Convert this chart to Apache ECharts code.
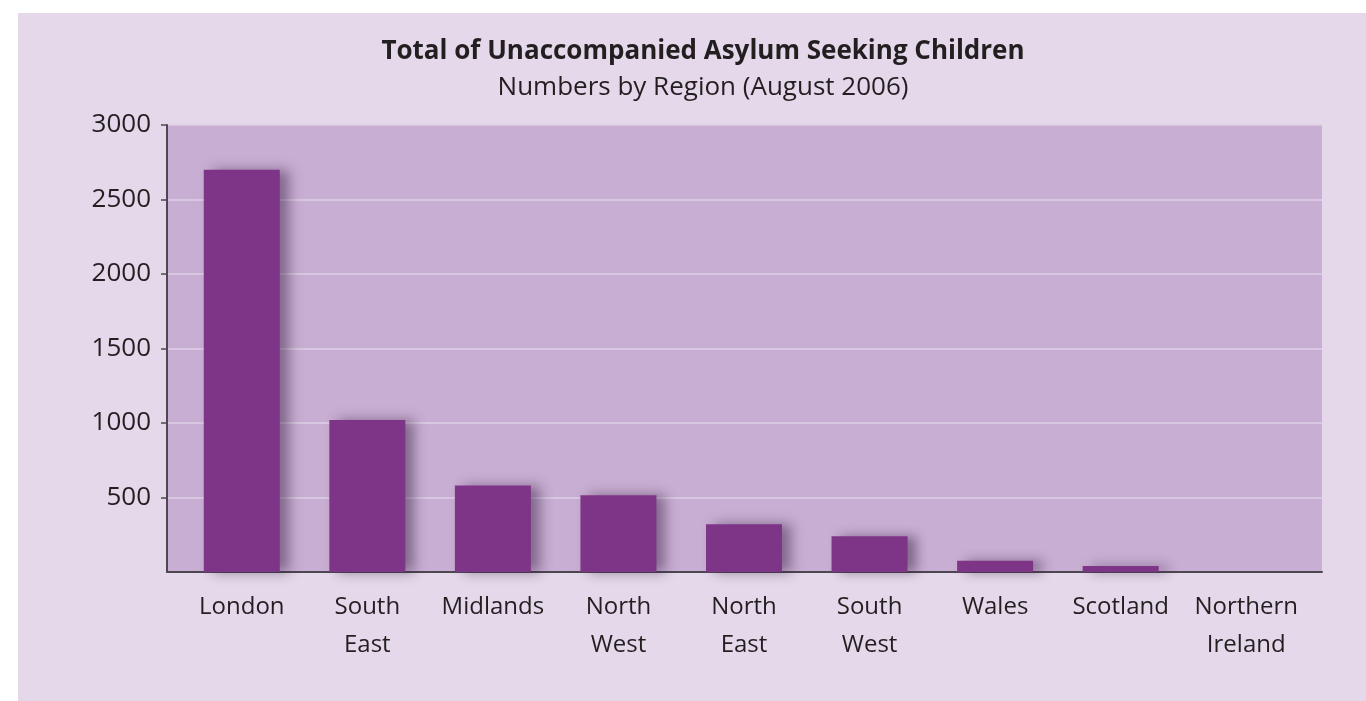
<!DOCTYPE html>
<html>
<head>
<meta charset="utf-8">
<script src="https://cdn.jsdelivr.net/npm/echarts@6/dist/echarts.min.js"></script>
<style>
html,body{margin:0;padding:0;background:#ffffff;}
#chart{width:1366px;height:701px;}
</style>
</head>
<body>
<div id="chart"></div>
<script>
const titleText = 'Total of Unaccompanied Asylum Seeking Children';
const subtitleText = 'Numbers by Region (August 2006)';
const categories = ['London', 'South\nEast', 'Midlands', 'North\nWest', 'North\nEast', 'South\nWest', 'Wales', 'Scotland', 'Northern\nIreland'];
const values = [2700, 1020, 580, 515, 320, 240, 75, 40, 0];
const yTicks = { min: 0, max: 3000, interval: 500 };

const FONT = '"Open Sans", sans-serif';
const chart = echarts.init(document.getElementById('chart'), null, { renderer: 'canvas' });

chart.setOption({
  animation: false,
  backgroundColor: '#ffffff',
  graphic: [{
    type: 'rect', z: -10, silent: true,
    shape: { x: 18, y: 13, width: 1348, height: 688 },
    style: { fill: '#e4d8ea' }
  }],
  title: [{
    text: titleText,
    subtext: subtitleText,
    left: 698, top: 34, textAlign: 'center',
    itemGap: 10,
    textStyle: { fontFamily: FONT, fontWeight: 'bold', fontSize: 26, color: '#231f20' },
    subtextStyle: { fontFamily: FONT, fontSize: 26, color: '#231f20' }
  }],
  grid: [
    { left: 167, top: 125, width: 1155, height: 447, show: true, backgroundColor: '#c9aed3', borderWidth: 0 },
    { left: 179, top: 125, width: 1130, height: 447 }
  ],
  xAxis: [
    { type: 'category', gridIndex: 0, data: categories, boundaryGap: true,
      axisLine: { show: true, lineStyle: { color: '#4d4750', width: 2 } },
      axisTick: { show: false }, axisLabel: { show: false }, splitLine: { show: false } },
    { type: 'category', gridIndex: 1, data: categories, boundaryGap: true,
      axisLine: { show: false }, axisTick: { show: false },
      axisLabel: { show: true, interval: 0, margin: 16, fontFamily: FONT, fontSize: 24, lineHeight: 38, color: '#231f20' } }
  ],
  yAxis: [
    { type: 'value', gridIndex: 0, min: yTicks.min, max: yTicks.max, interval: yTicks.interval,
      axisLine: { show: true, lineStyle: { color: '#4d4750', width: 2 } },
      axisTick: { show: true, length: 6, lineStyle: { color: '#4d4750', width: 1.5 } },
      axisLabel: { showMinLabel: false, margin: 16, fontFamily: FONT, fontSize: 26, color: '#231f20',
        padding: [6, 0, 0, 0],
        formatter: function (v) { return String(v); } },
      splitLine: { show: true, lineStyle: { color: '#ddcfe4', width: 1.5 } } },
    { type: 'value', gridIndex: 1, min: yTicks.min, max: yTicks.max, interval: yTicks.interval, show: false,
      splitLine: { show: false } }
  ],
  series: [{
    type: 'bar', xAxisIndex: 1, yAxisIndex: 1,
    data: values, barWidth: 76,
    itemStyle: { color: '#7f3587', shadowColor: 'rgba(40,20,50,0.45)', shadowBlur: 12, shadowOffsetX: 9, shadowOffsetY: 0 }
  }]
});
</script>
</body>
</html>
